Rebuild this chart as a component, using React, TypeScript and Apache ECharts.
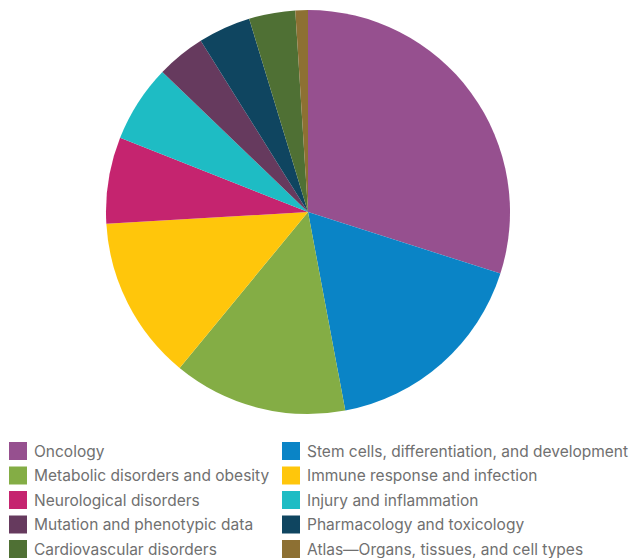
import React, { useEffect, useRef } from "react";
import * as echarts from "echarts";

const categories = [
  "Oncology",
  "Stem cells, differentiation, and development",
  "Metabolic disorders and obesity",
  "Immune response and infection",
  "Neurological disorders",
  "Injury and inflammation",
  "Mutation and phenotypic data",
  "Pharmacology and toxicology",
  "Cardiovascular disorders",
  "Atlas\u2014Organs, tissues, and cell types",
];
const values = [29.9, 17.1, 13.9, 13.1, 6.9, 6.2, 3.9, 4.2, 3.7, 1.0];
const colors = [
  "#96508f",
  "#0a84c6",
  "#84ad45",
  "#ffc60b",
  "#c5246f",
  "#1ebcc4",
  "#663a5e",
  "#0f4560",
  "#4f7034",
  "#8d7033",
];

export default function App() {
  const ref = useRef<HTMLDivElement>(null);
  useEffect(() => {
    document.body.style.margin = "0";
    const chart = echarts.init(ref.current!, null, { renderer: "svg" });
    const leftCol = categories.filter((_, i) => i % 2 === 0);
    const rightCol = categories.filter((_, i) => i % 2 === 1);
    const legendBase = {
      orient: "vertical" as const,
      top: 442,
      itemWidth: 18,
      itemHeight: 18,
      itemGap: 6.5,
      icon: "rect",
      selectedMode: false,
      textStyle: {
        fontFamily: "Inter",
        fontSize: 15.5,
        color: "#707070",
        padding: [0, 0, 0, 2],
      },
      padding: 0,
    };
    chart.setOption({
      animation: false,
      color: colors,
      legend: [
        { ...legendBase, left: 9, data: leftCol },
        { ...legendBase, left: 282, data: rightCol },
      ],
      series: [
        {
          type: "pie",
          center: [308, 212],
          radius: [0, 202],
          startAngle: 90,
          clockwise: true,
          label: { show: false },
          labelLine: { show: false },
          itemStyle: { borderWidth: 0 },
          emphasis: { disabled: true },
          data: categories.map((name, i) => ({ name, value: values[i] })),
        },
      ],
    });
    return () => chart.dispose();
  }, []);
  return <div ref={ref} style={{ width: 629, height: 558 }} />;
}
